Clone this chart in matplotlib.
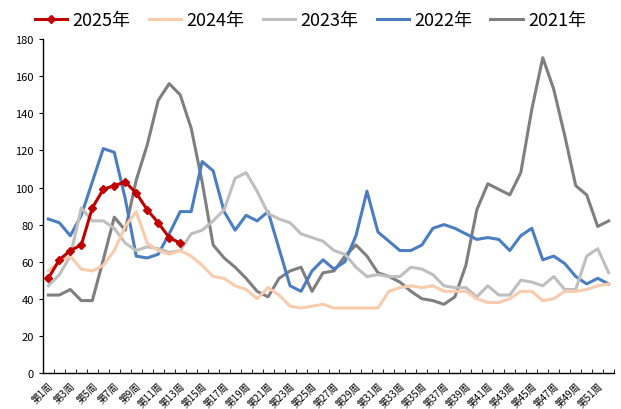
import numpy as np
import matplotlib
matplotlib.use("Agg")
import matplotlib.pyplot as plt
from matplotlib.ticker import FixedLocator, MultipleLocator

plt.rcParams['font.family'] = ['Noto Sans CJK SC', 'DejaVu Sans']

weeks = np.arange(1, 53)
week_labels = [f"第{w}周" for w in weeks]

y2025 = [51, 61, 66, 69, 89, 99, 101, 103, 97, 88, 81, 73, 70]
y2024 = [55, 60, 63, 56, 55, 58, 66, 79, 87, 70, 66, 64, 66, 63, 58, 52, 51, 47, 45, 40,
         46, 42, 36, 35, 36, 37, 35, 35, 35, 35, 35, 44, 46, 47, 46, 47, 44, 44, 44, 40,
         38, 38, 40, 44, 44, 39, 40, 44, 44, 45, 47, 48]
y2023 = [47, 53, 63, 89, 82, 82, 78, 70, 66, 68, 67, 65, 66, 75, 77, 82, 88, 105, 108, 98,
         86, 83, 81, 75, 73, 71, 66, 64, 57, 52, 53, 52, 52, 57, 56, 53, 47, 46, 46, 41,
         47, 42, 42, 50, 49, 47, 52, 45, 45, 63, 67, 54]
y2022 = [83, 81, 74, 85, 103, 121, 119, 94, 63, 62, 64, 75, 87, 87, 114, 109, 87, 77, 85, 82,
         87, 67, 47, 44, 55, 61, 56, 60, 74, 98, 76, 71, 66, 66, 69, 78, 80, 78, 75, 72,
         73, 72, 66, 74, 78, 61, 63, 59, 52, 48, 51, 48]
y2021 = [42, 42, 45, 39, 39, 61, 84, 77, 104, 123, 147, 156, 150, 132, 103, 69, 62, 57, 51, 44,
         41, 51, 55, 57, 44, 54, 55, 63, 69, 63, 54, 52, 49, 44, 40, 39, 37, 41, 58, 88,
         102, 99, 96, 108, 142, 170, 153, 128, 101, 96, 79, 82]

series = [
    ("2025年", y2025, "#C00000"),
    ("2024年", y2024, "#F8CBAD"),
    ("2023年", y2023, "#BFBFBF"),
    ("2022年", y2022, "#4A7EC1"),
    ("2021年", y2021, "#7F7F7F"),
]

fig = plt.figure(figsize=(6.21, 4.10), dpi=100)
ax = fig.add_axes([0.069, 0.088, 0.92, 0.814])

# draw oldest first so 2025 is on top
for name, vals, color in reversed(series):
    x = weeks[:len(vals)]
    if name == "2025年":
        ax.plot(x, vals, color=color, lw=2.2, marker="D", ms=4.5, label=name, zorder=5)
    else:
        ax.plot(x, vals, color=color, lw=2.2, label=name)

ax.set_xlim(0.5, 52.5)
ax.set_ylim(0, 180)
ax.yaxis.set_major_locator(MultipleLocator(20))
ax.tick_params(axis='y', labelsize=8, length=3, direction='out')

ax.xaxis.set_major_locator(FixedLocator(weeks[::2]))
ax.set_xticklabels(week_labels[::2], rotation=45, ha='right', fontsize=7,
                   rotation_mode='anchor')
ax.xaxis.set_minor_locator(FixedLocator(np.arange(0.5, 53, 1)))
ax.tick_params(axis='x', which='major', length=0, pad=5)
ax.tick_params(axis='x', which='minor', length=3, direction='in')

for s in ['top', 'right']:
    ax.spines[s].set_visible(False)
for s in ['left', 'bottom']:
    ax.spines[s].set_color('black')
    ax.spines[s].set_linewidth(1.0)

handles, labels = ax.get_legend_handles_labels()
order = [labels.index(n) for n, _, _ in series]
fig.legend([handles[i] for i in order], [labels[i] for i in order],
           loc='upper center', bbox_to_anchor=(0.5, 1.01), ncol=5, frameon=False,
           fontsize=13, handlelength=1.8, columnspacing=1.0, handletextpad=0.3)

fig.savefig("out.png", dpi=100)
